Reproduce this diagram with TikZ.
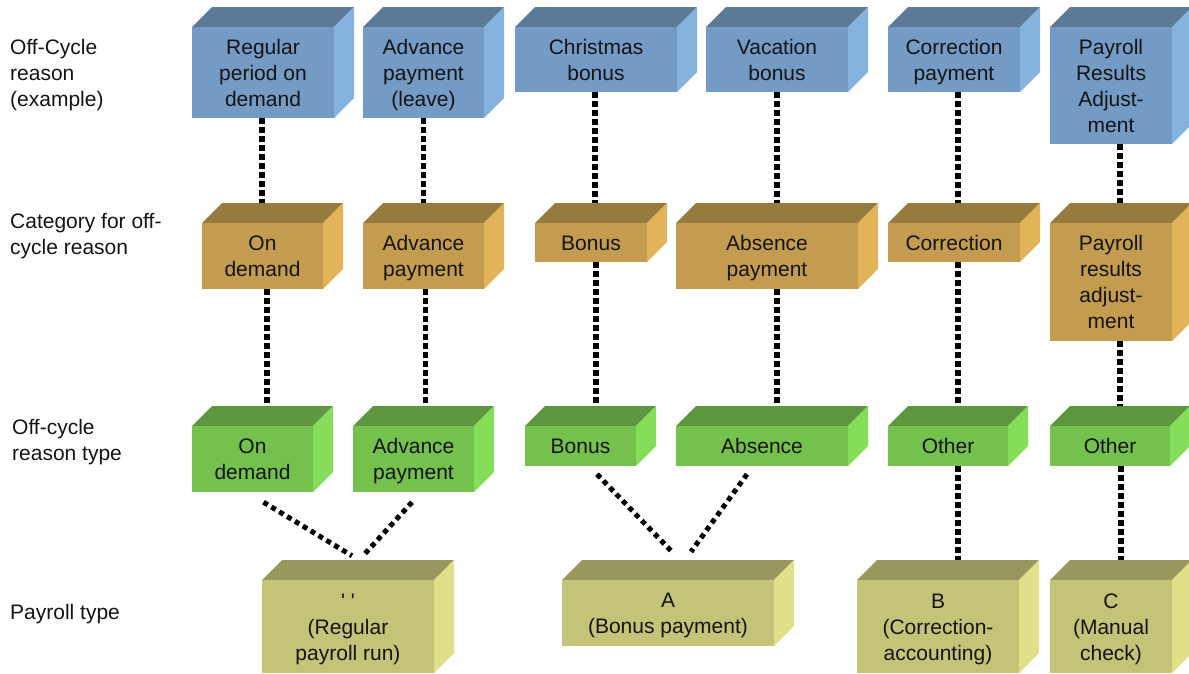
\documentclass[tikz,border=0pt]{standalone}
\usepackage{fontspec}
\setmainfont{Liberation Sans}
\newfontfamily\qfont{Liberation Sans}[Ligatures=TeXOff]
\usetikzlibrary{calc}
\pgfdeclarelayer{bg}
\pgfsetlayers{bg,main}
\definecolor{bluefront}{RGB}{115,155,197}
\definecolor{bluetop}{RGB}{92,121,151}
\definecolor{blueside}{RGB}{134,178,222}
\definecolor{tanfront}{RGB}{196,156,80}
\definecolor{tantop}{RGB}{150,122,62}
\definecolor{tanside}{RGB}{226,180,90}
\definecolor{grnfront}{RGB}{116,193,78}
\definecolor{grntop}{RGB}{92,150,62}
\definecolor{grnside}{RGB}{133,222,90}
\definecolor{olvfront}{RGB}{195,196,120}
\definecolor{olvtop}{RGB}{152,152,92}
\definecolor{olvside}{RGB}{224,224,138}
\definecolor{txt}{RGB}{20,20,20}
\newcommand\ls{\rule[-4.5pt]{0pt}{24pt}}
\tikzset{
  boxtext/.style={inner sep=0pt, text=txt, font=\fontsize{21}{26}\selectfont},
  cubeface/.style={boxtext, align=center},
  rowlabel/.style={boxtext, align=left, anchor=west},
  dotline/.style={line width=5.5pt, dash pattern=on 5.5pt off 3.5pt, black},
  diagline/.style={line width=5pt, dash pattern=on 5pt off 4.2pt, black}
}
\newcommand\cubebox[7]{%
  \fill[#6top] (#2,#3) -- (#2+20,#3-20) -- (#4+20,#3-20) -- (#4,#3) -- cycle;
  \fill[#6side] (#4,#3) -- (#4+20,#3-20) -- (#4+20,#5-20) -- (#4,#5) -- cycle;
  \node[cubeface, fill=#6front, minimum width=#4pt-#2pt, minimum height=#5pt-#3pt] (#1) at ({(#2+#4)/2},{(#3+#5)/2}) {\ls #7\ls};
}
\begin{document}
\begin{tikzpicture}[x=1pt,y=-1pt]
\useasboundingbox (0,0) rectangle (1189,673);

% row labels
\node[rowlabel] (l1) at (10,73) {\ls Off-Cycle\\reason\\(example)\ls};
\node[rowlabel] (l2) at (10,234) {\ls Category for off-\\cycle reason\ls};
\node[rowlabel] (l3) at (12,440) {\ls Off-cycle\\reason type\ls};
\node[rowlabel] (l4) at (10,612) {\ls Payroll type\ls};

% off-cycle reasons (blue)
\cubebox{b1}{192}{27}{334}{118}{blue}{Regular\\period on\\demand}
\cubebox{b2}{363}{27}{484}{118}{blue}{Advance\\payment\\(leave)}
\cubebox{b3}{515}{27}{677}{92}{blue}{Christmas\\bonus}
\cubebox{b4}{706}{27}{848}{92}{blue}{Vacation\\bonus}
\cubebox{b5}{888}{27}{1020}{92}{blue}{Correction\\payment}
\cubebox{b6}{1050}{27}{1172}{144}{blue}{Payroll\\Results\\Adjust-\\ment}

% categories (tan)
\cubebox{t1}{202}{223}{323}{289}{tan}{On\\demand}
\cubebox{t2}{363}{223}{484}{289}{tan}{Advance\\payment}
\cubebox{t3}{535}{223}{647}{262}{tan}{Bonus}
\cubebox{t4}{676}{223}{858}{289}{tan}{Absence\\payment}
\cubebox{t5}{888}{223}{1020}{262}{tan}{Correction}
\cubebox{t6}{1050}{223}{1172}{341}{tan}{Payroll\\results\\adjust-\\ment}

% reason types (green)
\cubebox{g1}{192}{426}{313}{492}{grn}{On\\demand}
\cubebox{g2}{353}{426}{474}{492}{grn}{Advance\\payment}
\cubebox{g3}{525}{426}{636}{466}{grn}{Bonus}
\cubebox{g4}{676}{426}{848}{466}{grn}{Absence}
\cubebox{g5}{888}{426}{1008}{466}{grn}{Other}
\cubebox{g6}{1050}{426}{1170}{466}{grn}{Other}

% payroll types (olive)
\cubebox{p1}{262}{580}{434}{673}{olv}{{\qfont\char39\ \char39}\\(Regular\\payroll run)}
\cubebox{pa}{562}{580}{774}{646}{olv}{A\\(Bonus payment)}
\cubebox{pb}{857}{580}{1019}{673}{olv}{B\\(Correction-\\accounting)}
\cubebox{pc}{1050}{580}{1172}{673}{olv}{C\\(Manual\\check)}

\begin{pgfonlayer}{bg}
  \draw[dotline] ([xshift=-1pt]b1.south) -- ([xshift=-1pt]b1.south |- t1.north);
  \draw[dotline] ([xshift=4.5pt]t1.south) -- ([xshift=4.5pt]t1.south |- g1.north);
  \draw[dotline] (b2.south) -- (b2.south |- t2.north);
  \draw[dotline] ([xshift=2pt]t2.south) -- ([xshift=2pt]t2.south |- g2.north);
  \draw[dotline] ([xshift=-1pt]b3.south) -- ([xshift=-1pt]b3.south |- t3.north);
  \draw[dotline] ([xshift=5pt]t3.south) -- ([xshift=5pt]t3.south |- g3.north);
  \draw[dotline] (b4.south) -- (b4.south |- t4.north);
  \draw[dotline] ([xshift=10pt]t4.south) -- ([xshift=10pt]t4.south |- g4.north);
  \draw[dotline] ([xshift=4pt]b5.south) -- ([xshift=4pt]b5.south |- t5.north);
  \draw[dotline] ([xshift=4pt]t5.south) -- ([xshift=4pt]t5.south |- g5.north);
  \draw[dotline] ([xshift=10pt]g5.south) -- ([xshift=10pt]g5.south |- pb.north);
  \draw[dotline] ([xshift=9pt]b6.south) -- ([xshift=9pt]b6.south |- t6.north);
  \draw[dotline] ([xshift=9pt]t6.south) -- ([xshift=9pt]t6.south |- g6.north);
  \draw[dotline] ([xshift=11pt]g6.south) -- ([xshift=11pt]g6.south |- pc.north);
\end{pgfonlayer}

\draw[diagline] ([shift={(11,10)}]g1.south) -- ([shift={(4,-24)}]p1.north);
\draw[diagline] ([shift={(-1.5,10)}]g2.south) -- ([shift={(15,-24)}]p1.north);
\draw[diagline] ([shift={(16.5,8)}]g3.south) -- ([shift={(4,-28)}]pa.north);
\draw[diagline] ([shift={(-15,8)}]g4.south) -- ([shift={(23,-28)}]pa.north);
\end{tikzpicture}
\end{document}
